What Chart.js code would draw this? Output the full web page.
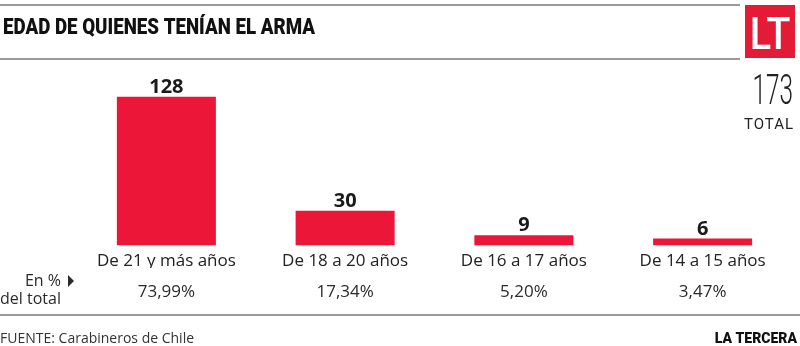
<!DOCTYPE html>
<html>
<head>
<meta charset="utf-8">
<script src="https://cdn.jsdelivr.net/npm/chart.js@4"></script>
<style>
  html, body { margin: 0; padding: 0; background: #fff; }
  canvas { display: block; }
</style>
</head>
<body>
<canvas id="chart" width="800" height="346"></canvas>
<script>
// Data
const categories = ['De 21 y más años', 'De 18 a 20 años', 'De 16 a 17 años', 'De 14 a 15 años'];
const counts = [128, 30, 9, 6];
const percentLabels = ['73,99%', '17,34%', '5,20%', '3,47%'];
const totalLabel = '173';

const RED = '#ec1639';
const sans = '"Open Sans", "Noto Sans", sans-serif';

// Draws everything around the bars: title, logo, total, values, percents, footer
const decorations = {
  id: 'decorations',
  afterDraw(chart) {
    const ctx = chart.ctx;
    const x = chart.scales.x;
    const y = chart.scales.y;
    ctx.save();

    // rules
    ctx.strokeStyle = '#7a7a7a';
    ctx.lineWidth = 1.5;
    ctx.beginPath();
    ctx.moveTo(0, 5); ctx.lineTo(740, 5);
    ctx.moveTo(0, 59); ctx.lineTo(740, 59);
    ctx.moveTo(0, 315); ctx.lineTo(800, 315);
    ctx.stroke();

    // title, squeezed to the reference width
    ctx.fillStyle = '#111';
    ctx.font = '900 22px Roboto, sans-serif';
    ctx.textBaseline = 'alphabetic';
    ctx.textAlign = 'left';
    const title = 'EDAD DE QUIENES TENÍAN EL ARMA';
    const tw = ctx.measureText(title).width;
    ctx.save();
    ctx.translate(3, 34);
    ctx.scale(312 / tw, 1);
    ctx.fillText(title, 0, 0);
    ctx.restore();

    // LT logo
    ctx.fillStyle = '#e31b37';
    ctx.fillRect(745, 5, 50, 53);
    ctx.fillStyle = '#fff';
    ctx.font = '500 44px Roboto, sans-serif';
    ctx.textAlign = 'center';
    ctx.save();
    ctx.translate(770, 49);
    ctx.scale(0.9, 1);
    ctx.fillText('LT', 0, 0);
    ctx.restore();

    // total
    ctx.fillStyle = '#222';
    ctx.font = '300 42px Roboto, sans-serif';
    ctx.textAlign = 'right';
    ctx.save();
    ctx.translate(793, 104);
    ctx.scale(0.58, 1);
    ctx.fillText(totalLabel, 0, 0);
    ctx.restore();
    ctx.font = '15px Roboto, sans-serif';
    ctx.letterSpacing = '1px';
    ctx.fillText('TOTAL', 794, 129);
    ctx.letterSpacing = '0px';

    // values above bars
    ctx.fillStyle = '#1a1a1a';
    ctx.font = 'bold 20px ' + sans;
    ctx.textAlign = 'center';
    counts.forEach((v, i) => {
      ctx.fillText(String(v), x.getPixelForValue(i), y.getPixelForValue(v) - 4);
    });

    // percentages
    ctx.fillStyle = '#2a2a2a';
    ctx.font = '17px ' + sans;
    ctx.textBaseline = 'middle';
    percentLabels.forEach((p, i) => {
      ctx.fillText(p, x.getPixelForValue(i), 292);
    });

    // "En % del total" with arrow
    ctx.textAlign = 'right';
    ctx.font = '16px ' + sans;
    ctx.fillText('En %', 61, 281);
    ctx.fillText('del total', 61, 299);
    ctx.beginPath();
    ctx.moveTo(68, 275); ctx.lineTo(74, 281); ctx.lineTo(68, 287);
    ctx.closePath();
    ctx.fill();

    // footer
    ctx.textBaseline = 'alphabetic';
    ctx.textAlign = 'left';
    ctx.fillStyle = '#333';
    ctx.font = '14px ' + sans;
    ctx.fillText('FUENTE: Carabineros de Chile', 0, 343);
    ctx.textAlign = 'right';
    ctx.fillStyle = '#111';
    ctx.font = '900 14px Roboto, sans-serif';
    ctx.fillText('LA TERCERA', 797, 343);

    ctx.restore();
  }
};

new Chart(document.getElementById('chart'), {
  type: 'bar',
  data: {
    labels: categories,
    datasets: [{
      data: counts,
      backgroundColor: RED,
      barPercentage: 0.554,
      categoryPercentage: 1
    }]
  },
  options: {
    responsive: false,
    animation: false,
    devicePixelRatio: 1,
    layout: { padding: { left: 77, right: 8, top: 70, bottom: 78 } },
    plugins: { legend: { display: false }, tooltip: { enabled: false } },
    scales: {
      x: {
        grid: { display: false },
        border: { display: false },
        ticks: {
          color: '#222',
          font: { family: sans, size: 17 },
          padding: -3,
          maxRotation: 0
        }
      },
      y: {
        display: false,
        min: 0,
        max: 151
      }
    }
  },
  plugins: [decorations]
});
</script>
</body>
</html>
